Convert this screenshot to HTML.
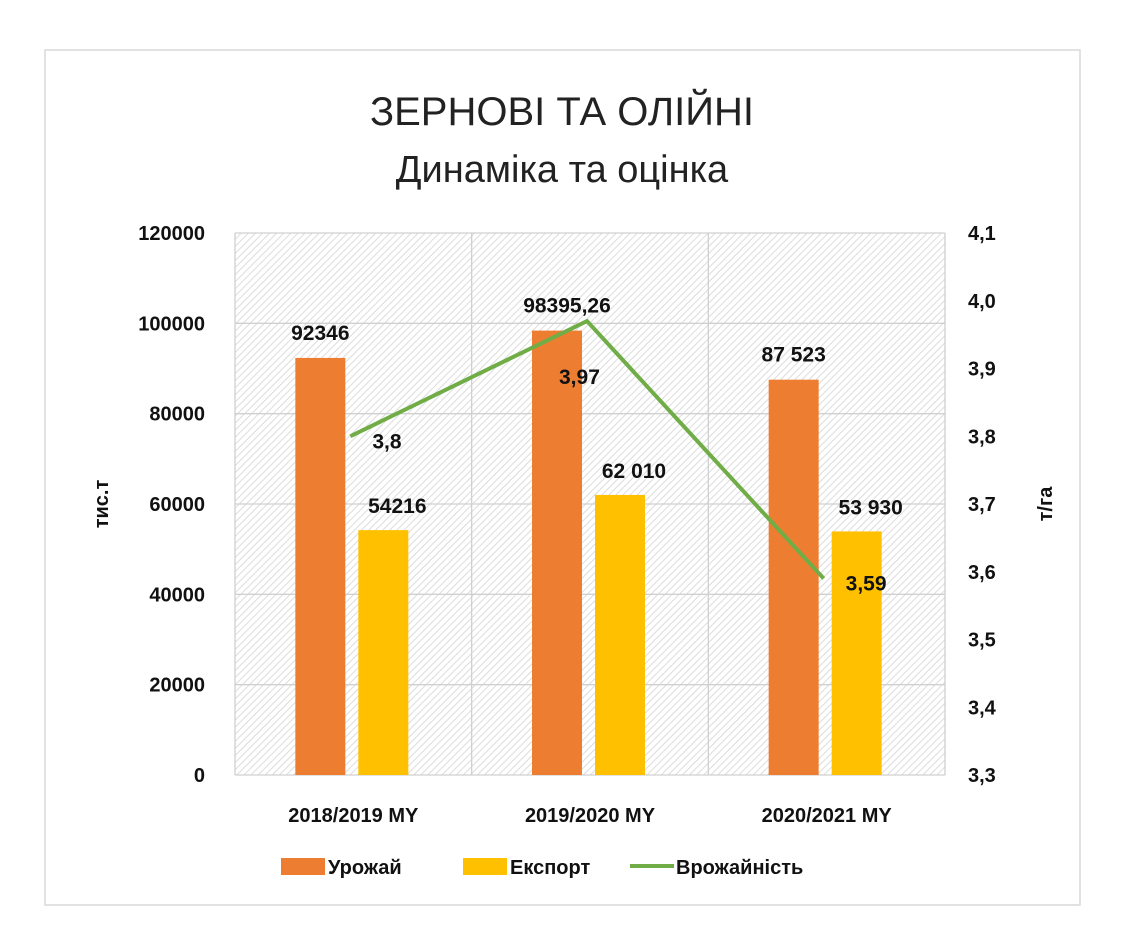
<!DOCTYPE html>
<html><head><meta charset="utf-8"><style>
body{margin:0;background:#fff;}
svg{display:block;font-family:"Liberation Sans","DejaVu Sans",sans-serif;}
</style></head><body>
<svg width="1125" height="944" viewBox="0 0 1125 944">
<defs>
<pattern id="hatch" width="5" height="5" patternUnits="userSpaceOnUse" patternTransform="rotate(45)">
<rect width="5" height="5" fill="#fff"/>
<line x1="0" y1="0" x2="0" y2="5" stroke="#dcdcdc" stroke-width="2"/>
</pattern>
</defs>
<rect x="45" y="50" width="1035" height="855" fill="#fff" stroke="#d9d9d9" stroke-width="1.5"/>
<text x="562" y="125" text-anchor="middle" font-size="40" fill="#222">ЗЕРНОВІ ТА ОЛІЙНІ</text>
<text x="562" y="182" text-anchor="middle" font-size="38" fill="#222">Динаміка та оцінка</text>
<rect x="235" y="233" width="710" height="542" fill="url(#hatch)"/>
<g id="grid"></g>
<g id="bars"></g>
<g id="line"></g>
<g id="labels"></g>
<text transform="translate(108,504) rotate(-90)" text-anchor="middle" font-size="20" font-weight="bold" fill="#111">тис.т</text>
<text transform="translate(1052,504) rotate(-90)" text-anchor="middle" font-size="20" font-weight="bold" fill="#111">т/га</text>
<g>
<rect x="281" y="858" width="44" height="17" fill="#ed7d31"/>
<text x="328" y="874" font-size="20" font-weight="bold" fill="#111">Урожай</text>
<rect x="463" y="858" width="44" height="17" fill="#ffc000"/>
<text x="510" y="874" font-size="20" font-weight="bold" fill="#111">Експорт</text>
<line x1="630" y1="866" x2="674" y2="866" stroke="#70ad47" stroke-width="4"/>
<text x="676" y="874" font-size="20" font-weight="bold" fill="#111">Врожайність</text>
</g>
</svg>
<script>
const categories=["2018/2019 MY","2019/2020 MY","2020/2021 MY"];
const harvest=[92346,98395.26,87523];
const exportVals=[54216,62010,53930];
const yieldVals=[3.8,3.97,3.59];
const harvestLabels=["92346","98395,26","87 523"];
const exportLabels=["54216","62 010","53 930"];
const yieldLabels=["3,8","3,97","3,59"];
const leftTicks=[0,20000,40000,60000,80000,100000,120000];
const rightTicks=["3,3","3,4","3,5","3,6","3,7","3,8","3,9","4,0","4,1"];

const NS="http://www.w3.org/2000/svg";
const X0=235,X1=945,Y0=775,Y1=233;
const yL=v=>Y0-(v/120000)*(Y0-Y1);
const yR=v=>Y0-((v-3.3)/0.8)*(Y0-Y1);
const cw=(X1-X0)/categories.length;
const xc=i=>X0+cw*(i+0.5);
function mk(tag,attrs,parent){const e=document.createElementNS(NS,tag);for(const k in attrs)e.setAttribute(k,attrs[k]);parent.appendChild(e);return e;}
const grid=document.getElementById('grid'),bars=document.getElementById('bars'),line=document.getElementById('line'),labels=document.getElementById('labels');
leftTicks.forEach(t=>{
 const l=mk('line',{x1:X0,x2:X1,y1:yL(t),y2:yL(t),stroke:'#d0d0d0','stroke-width':1.3},grid);
 
 
 const tx=mk('text',{x:205,y:yL(t)+7,'text-anchor':'end','font-size':20,'font-weight':'bold',fill:'#111'},grid);
 tx.textContent=t;
 
 
});
rightTicks.forEach((t,i)=>{
 const tx=mk('text',{x:968,y:yR(3.3+i*0.1)+7,'font-size':20,'font-weight':'bold',fill:'#111'},grid);
 tx.textContent=t;
 
 
});
for(let i=0;i<=categories.length;i++){
 const l=mk('line',{x1:X0+cw*i,x2:X0+cw*i,y1:Y1,y2:Y0,stroke:'#d0d0d0','stroke-width':1.3},grid);
 
 
}
const bw=50;
categories.forEach((c,i)=>{
 const ox=xc(i)-58, yx=xc(i)+5;
 const r1=mk('rect',{x:ox,y:yL(harvest[i]),width:bw,height:Y0-yL(harvest[i]),fill:'#ed7d31'},bars);
 
 
 const r2=mk('rect',{x:yx,y:yL(exportVals[i]),width:bw,height:Y0-yL(exportVals[i]),fill:'#ffc000'},bars);
 
 
 const t1=mk('text',{x:ox+bw/2+(i==1?10:0),y:yL(harvest[i])-18,'text-anchor':'middle','font-size':21,'font-weight':'bold',fill:'#111'},labels);
 t1.textContent=harvestLabels[i];
 
 
 const t2=mk('text',{x:yx+bw/2+14,y:yL(exportVals[i])-17,'text-anchor':'middle','font-size':21,'font-weight':'bold',fill:'#111'},labels);
 t2.textContent=exportLabels[i];
 
 
 const ct=mk('text',{x:xc(i),y:822,'text-anchor':'middle','font-size':20,'font-weight':'bold',fill:'#111'},labels);
 ct.textContent=c;
 
 
});
const pts=yieldVals.map((v,i)=>`${xc(i)-3},${yR(v)}`).join(' ');
const pl=mk('polyline',{points:pts,fill:'none',stroke:'#70ad47','stroke-width':4},line);


yieldVals.forEach((v,i)=>{
 const px=xc(i)-3, py=yR(v);
 const t=mk('text',{x:i==1?px-28:px+22,y:i==1?py+63:py+12,'font-size':21,'font-weight':'bold',fill:'#111'},labels);
 t.textContent=yieldLabels[i];
 
 
});
</script>
</body></html>
